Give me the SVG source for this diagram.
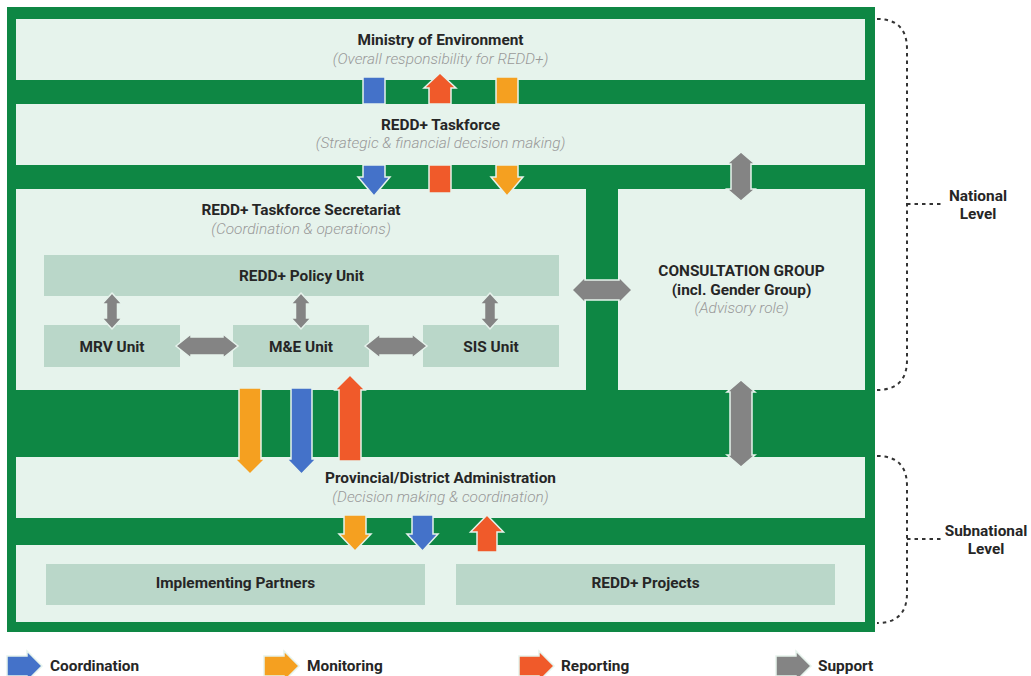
<svg xmlns="http://www.w3.org/2000/svg" width="1031" height="676" viewBox="0 0 1031 676">
<style>
.bg{fill:#0e8744}
.box{fill:#e6f3ec}
.unit{fill:#bad7c9}
.t{font-family:Roboto,"Liberation Sans",sans-serif;font-size:15.4px;font-weight:700;fill:#262626;text-anchor:middle}
.s{font-family:Roboto,"Liberation Sans",sans-serif;font-size:15.4px;font-weight:300;font-style:italic;fill:#999999;text-anchor:middle}
.l{font-family:Roboto,"Liberation Sans",sans-serif;font-size:15.4px;font-weight:700;fill:#262626}
.a{stroke:#e6f3ec;stroke-width:1.5;stroke-linejoin:miter}
.blue{fill:#4472c9}
.orange{fill:#f5a020}
.red{fill:#f05a2a}
.gray{fill:#848484}
.br{fill:none;stroke:#333;stroke-width:2;stroke-dasharray:3.5 4}
</style>
<rect width="1031" height="676" fill="#ffffff"/>
<rect class="bg" x="7" y="7" width="868" height="625"/>

<g id="ministry">
<rect class="box" x="16" y="19" width="849" height="61"/>
<text class="t" x="440.5" y="45">Ministry of Environment</text>
<text class="s" x="440.5" y="64">(Overall responsibility for REDD+)</text>
</g>
<g id="taskforce">
<rect class="box" x="16" y="104" width="849" height="61"/>
<text class="t" x="440.5" y="130">REDD+ Taskforce</text>
<text class="s" x="440.5" y="148">(Strategic &amp; financial decision making)</text>
</g>
<g id="secretariat">
<rect class="box" x="16" y="189" width="570" height="201"/>
<text class="t" x="301" y="215">REDD+ Taskforce Secretariat</text>
<text class="s" x="301" y="234">(Coordination &amp; operations)</text>
</g>
<g id="policy-unit">
<rect class="unit" x="44" y="255" width="515" height="41"/>
<text class="t" x="301.5" y="281">REDD+ Policy Unit</text>
</g>
<g id="mrv-unit">
<rect class="unit" x="44" y="325" width="136" height="42"/>
<text class="t" x="112" y="352">MRV Unit</text>
</g>
<g id="me-unit">
<rect class="unit" x="233" y="325" width="136" height="42"/>
<text class="t" x="301" y="352">M&amp;E Unit</text>
</g>
<g id="sis-unit">
<rect class="unit" x="423" y="325" width="136" height="42"/>
<text class="t" x="491" y="352">SIS Unit</text>
</g>
<g id="consultation">
<rect class="box" x="618" y="189" width="247" height="201"/>
<text class="t" x="741.5" y="276">CONSULTATION GROUP</text>
<text class="t" x="741.5" y="295">(incl. Gender Group)</text>
<text class="s" x="741.5" y="313">(Advisory role)</text>
</g>
<g id="provincial">
<rect class="box" x="16" y="457" width="849" height="61"/>
<text class="t" x="440.5" y="483">Provincial/District Administration</text>
<text class="s" x="440.5" y="502">(Decision making &amp; coordination)</text>
</g>
<g id="local">
<rect class="box" x="16" y="545" width="849" height="77"/>
</g>
<g id="implementing-partners">
<rect class="unit" x="46" y="564" width="379" height="41"/>
<text class="t" x="235.5" y="588">Implementing Partners</text>
</g>
<g id="redd-projects">
<rect class="unit" x="456" y="564" width="379" height="41"/>
<text class="t" x="645.5" y="588">REDD+ Projects</text>
</g>

<g id="connectors">
<!-- Ministry <-> Taskforce -->
<rect class="a blue" x="363" y="77" width="22" height="27"/>
<polygon class="a blue" points="363,165 385,165 385,177 390,177 374,196 358,177 363,177"/>
<polygon class="a red" points="440,73 456,88 451,88 451,104 429,104 429,88 424,88"/>
<rect class="a red" x="429" y="165" width="22" height="28"/>
<rect class="a orange" x="496" y="77" width="22" height="27"/>
<polygon class="a orange" points="496,165 518,165 518,177 523,177 507,196 491,177 496,177"/>
<!-- Taskforce <-> Consultation -->
<polygon class="a gray" points="741,152 755,164 751,164 751,189 755,189 741,201 727,189 731,189 731,164 727,164"/>
<!-- Secretariat <-> Consultation -->
<polygon class="a gray" points="572,290 585,277 585,280 619,280 619,277 632,290 619,303 619,300 585,300 585,303"/>
<!-- Consultation <-> Provincial -->
<polygon class="a gray" points="741,380 755,392 752,392 752,455 755,455 741,467 727,455 730,455 730,392 727,392"/>
<!-- Units -->
<polygon class="a gray" points="112,293 122,304 117.5,304 117.5,318 122,318 112,329 102,318 106.5,318 106.5,304 102,304"/>
<polygon class="a gray" points="301,293 311,304 306.5,304 306.5,318 311,318 301,329 291,318 295.5,318 295.5,304 291,304"/>
<polygon class="a gray" points="490,293 500,304 495.5,304 495.5,318 500,318 490,329 480,318 484.5,318 484.5,304 480,304"/>
<polygon class="a gray" points="176,346 191,334 191,337 223,337 223,334 238,346 223,358 223,355 191,355 191,358"/>
<polygon class="a gray" points="365,346 380,334 380,337 412,337 412,334 427,346 412,358 412,355 380,355 380,358"/>
<!-- Secretariat <-> Provincial -->
<polygon class="a orange" points="239,388 261,388 261,459 265,459 250,474 235,459 239,459"/>
<polygon class="a blue" points="291,388 312,388 312,459 316,459 301.5,474 287,459 291,459"/>
<polygon class="a red" points="350,375 365,390 361,390 361,461 339,461 339,390 335,390"/>
<!-- Provincial <-> Local -->
<polygon class="a orange" points="344,515 366,515 366,534 371,534 355,551 339,534 344,534"/>
<polygon class="a blue" points="412,515 433,515 433,534 438,534 422.5,551 407,534 412,534"/>
<polygon class="a red" points="487,515 503.5,532 497,532 497,552 477,552 477,532 470.5,532"/>
</g>

<g id="national-level">
<path class="br" d="M877,19 C897,19 907,29 907,49 V360 C907,380 897,390 877,390"/>
<line class="br" x1="907" y1="204" x2="943" y2="204"/>
<text class="t" x="978" y="201">National</text>
<text class="t" x="978" y="219">Level</text>
</g>
<g id="subnational-level">
<path class="br" d="M877,456 C897,456 907,466 907,486 V593 C907,613 897,623 877,623"/>
<line class="br" x1="907" y1="539" x2="943" y2="539"/>
<text class="t" x="986" y="536">Subnational</text>
<text class="t" x="986" y="554">Level</text>
</g>

<g id="legend">
<polygon class="a blue" points="7,656 27,656 27,651 42,666 27,681 27,676 7,676"/>
<text class="l" x="50" y="671">Coordination</text>
<polygon class="a orange" points="264,656 284,656 284,651 299,666 284,681 284,676 264,676"/>
<text class="l" x="307" y="671">Monitoring</text>
<polygon class="a red" points="519,656 539,656 539,651 554,666 539,681 539,676 519,676"/>
<text class="l" x="561" y="671">Reporting</text>
<polygon class="a gray" points="776,656 796,656 796,651 811,666 796,681 796,676 776,676"/>
<text class="l" x="818" y="671">Support</text>
</g>
</svg>
